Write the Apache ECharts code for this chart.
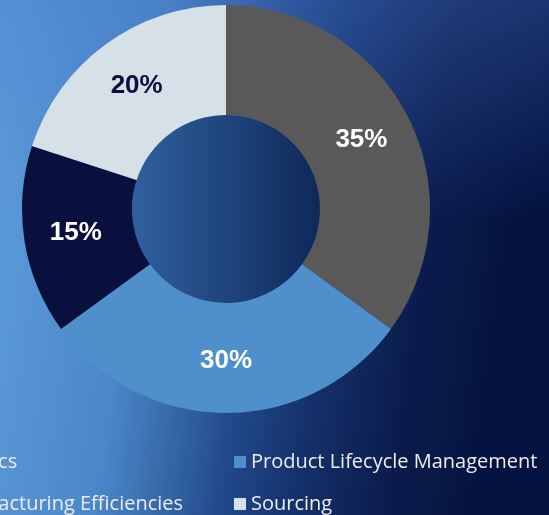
<!DOCTYPE html>
<html><head><meta charset="utf-8">
<script src="https://cdn.jsdelivr.net/npm/echarts@6/dist/echarts.min.js"></script>
<style>html,body{margin:0;padding:0;}#c{width:549px;height:515px;}</style>
</head><body><div id="c"></div>
<script>
const categories = ['Logistics', 'Product Lifecycle Management', 'Manufacturing Efficiencies', 'Sourcing'];
const values = [35, 30, 15, 20];
const colors = ['#595959', '#4F8FCC', '#0A103D', '#D6E1E7'];
const labelColors = ['#FFFFFF', '#FFFFFF', '#FFFFFF', '#0A103D'];

const chart = echarts.init(document.getElementById('c'));
const legendText = { color: '#EDEDED', fontSize: 20, fontFamily: 'Open Sans' };
function leg(name, left, top) {
  return {
    orient: 'horizontal', left: left, top: top, padding: 0,
    itemWidth: 12, itemHeight: 12, icon: 'rect', itemGap: 0,
    textStyle: legendText, selectedMode: false,
    data: [name]
  };
}
chart.setOption({
  backgroundColor: new echarts.graphic.LinearGradient(0, 0, 1, 0.15, [
    { offset: 0, color: '#5E9DDB' },
    { offset: 0.3, color: '#4A87C8' },
    { offset: 0.42, color: '#3466A6' },
    { offset: 0.52, color: '#22498A' },
    { offset: 0.66, color: '#14306A' },
    { offset: 0.82, color: '#0B1C4C' },
    { offset: 1, color: '#031240' }
  ]),
  graphic: [{
    type: 'rect', left: 0, top: 0, z: -1, silent: true,
    shape: { width: 549, height: 220 },
    style: {
      fill: new echarts.graphic.LinearGradient(0, 0, 0, 1, [
        { offset: 0, color: 'rgba(70,115,200,0.35)' },
        { offset: 1, color: 'rgba(70,115,200,0)' }
      ])
    }
  }],
  legend: [
    leg(categories[0], -79, 452),
    leg(categories[1], 234, 452),
    leg(categories[2], -79, 494),
    leg(categories[3], 234, 494)
  ],
  series: [{
    type: 'pie',
    center: [226, 209],
    radius: [0, 94],
    silent: true,
    label: { show: false },
    labelLine: { show: false },
    data: [{
      name: 'hole', value: 1,
      itemStyle: {
        color: new echarts.graphic.LinearGradient(0, 0, 1, 0, [
          { offset: 0, color: '#30619F' },
          { offset: 1, color: '#0E2859' }
        ])
      }
    }]
  }, {
    type: 'pie',
    center: [226, 209],
    radius: [94, 204],
    startAngle: 90,
    clockwise: true,
    avoidLabelOverlap: false,
    label: {
      show: true, position: 'inside',
      formatter: p => p.value + '%',
      fontSize: 26, fontWeight: 'bold', fontFamily: 'Liberation Sans'
    },
    labelLine: { show: false },
    emphasis: { disabled: true },
    data: categories.map((c, i) => ({
      name: c, value: values[i],
      itemStyle: { color: colors[i] },
      label: { color: labelColors[i] }
    }))
  }]
});
</script></body></html>
